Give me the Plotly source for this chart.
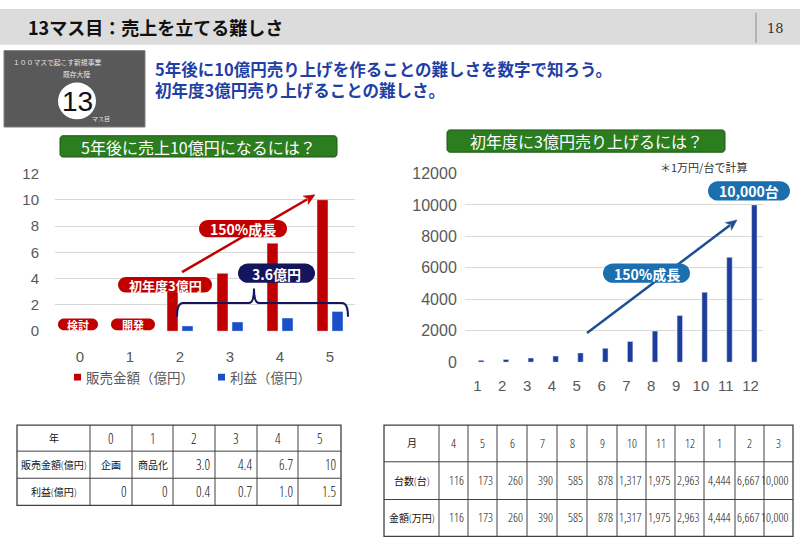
import math
import plotly.graph_objects as go

# ---------------- data ----------------
years = [0, 1, 2, 3, 4, 5]
sales = [0, 0, 3.0, 4.4, 6.7, 10]          # 販売金額（億円）
profit = [0, 0, 0.4, 0.7, 1.0, 1.5]        # 利益（億円）
sales_table = ["企画", "商品化", "3.0", "4.4", "6.7", "10"]
profit_table = ["0", "0", "0.4", "0.7", "1.0", "1.5"]

month_idx = [1, 2, 3, 4, 5, 6, 7, 8, 9, 10, 11, 12]
months = ["4", "5", "6", "7", "8", "9", "10", "11", "12", "1", "2", "3"]
units = [116, 173, 260, 390, 585, 878, 1317, 1975, 2963, 4444, 6667, 10000]   # 台数（台）
amounts = [116, 173, 260, 390, 585, 878, 1317, 1975, 2963, 4444, 6667, 10000] # 金額（万円）

W, H = 800, 554
JP = "Noto Sans CJK JP"
COND = "Open Sans Condensed Light, Noto Sans CJK JP"
RED = "#c00000"
BLUE_L = "#1a4fc8"
BLUE_R = "#1c3d9c"
NAVY = "#15155e"
PILLBLUE = "#1b6fae"
GREEN = "#2b7d1f"
GRAY = "#595959"


def px(x):
    return x / W


def py(y):
    return 1 - y / H


def P(x, y):
    return f"{px(x):.5f},{py(y):.5f}"


def rrect(x0, y0, x1, y1, r):
    k = 0.5523 * r
    return (f"M {P(x0 + r, y0)} L {P(x1 - r, y0)} "
            f"C {P(x1 - r + k, y0)} {P(x1, y0 + r - k)} {P(x1, y0 + r)} "
            f"L {P(x1, y1 - r)} "
            f"C {P(x1, y1 - r + k)} {P(x1 - r + k, y1)} {P(x1 - r, y1)} "
            f"L {P(x0 + r, y1)} "
            f"C {P(x0 + r - k, y1)} {P(x0, y1 - r + k)} {P(x0, y1 - r)} "
            f"L {P(x0, y0 + r)} "
            f"C {P(x0, y0 + r - k)} {P(x0 + r - k, y0)} {P(x0 + r, y0)} Z")


shapes = []
annotations = []


def add_rrect(x0, y0, x1, y1, r, fill, line=None, lw=0):
    shapes.append(dict(type="path", xref="paper", yref="paper", path=rrect(x0, y0, x1, y1, r),
                       fillcolor=fill, line=dict(color=line or fill, width=lw), layer="above"))


def add_text(x, y, text, size, color, bold=False, family=JP, xanchor="center"):
    annotations.append(dict(xref="paper", yref="paper", x=px(x), y=py(y), text=text, showarrow=False,
                            xanchor=xanchor, yanchor="middle", align="left" if xanchor == "left" else "center",
                            font=dict(family=family, size=size, color=color,
                                      weight="bold" if bold else "normal")))


def pill(x0, y0, x1, y1, fill, text, size):
    add_rrect(x0, y0, x1, y1, (y1 - y0) / 2, fill)
    add_text((x0 + x1) / 2, (y0 + y1) / 2 + 0.5, text, size, "white", bold=True)


def arrow(x0, y0, x1, y1, color, w=2.5, hl=11, hw=5):
    d = math.hypot(x1 - x0, y1 - y0)
    ux, uy = (x1 - x0) / d, (y1 - y0) / d
    bx, by = x1 - ux * hl, y1 - uy * hl
    shapes.append(dict(type="line", xref="paper", yref="paper", x0=px(x0), y0=py(y0),
                       x1=px(bx + ux * 2), y1=py(by + uy * 2), line=dict(color=color, width=w), layer="above"))
    nx, ny = -uy, ux
    shapes.append(dict(type="path", xref="paper", yref="paper",
                       path=f"M {P(x1, y1)} L {P(bx + nx * hw, by + ny * hw)} L {P(bx + ux * 3, by + uy * 3)} "
                            f"L {P(bx - nx * hw, by - ny * hw)} Z",
                       fillcolor=color, line=dict(color=color, width=0.5), layer="above"))


def is_num(s):
    return s.replace(",", "").replace(".", "").isdigit()


def draw_table(x_edges, y_edges, rows, size_txt, size_num, pad=3):
    shapes.append(dict(type="rect", xref="paper", yref="paper", x0=px(x_edges[0]), x1=px(x_edges[-1]),
                       y0=py(y_edges[-1]), y1=py(y_edges[0]), line=dict(color="#404040", width=1.3),
                       fillcolor="rgba(0,0,0,0)"))
    for xe in x_edges[1:-1]:
        shapes.append(dict(type="line", xref="paper", yref="paper", x0=px(xe), x1=px(xe),
                           y0=py(y_edges[-1]), y1=py(y_edges[0]), line=dict(color="#404040", width=1)))
    for ye in y_edges[1:-1]:
        shapes.append(dict(type="line", xref="paper", yref="paper", x0=px(x_edges[0]), x1=px(x_edges[-1]),
                           y0=py(ye), y1=py(ye), line=dict(color="#404040", width=1)))
    for r, row in enumerate(rows):
        yc = (y_edges[r] + y_edges[r + 1]) / 2
        for c, txt in enumerate(row):
            if r > 0 and c > 0 and is_num(txt):
                add_text(x_edges[c + 1] - pad, yc, txt, size_num, "#111111", family=COND, xanchor="right")
            else:
                add_text((x_edges[c] + x_edges[c + 1]) / 2, yc, txt,
                         size_num if is_num(txt) else size_txt, "#111111", family=COND)


# ---------------- header ----------------
shapes.append(dict(type="rect", xref="paper", yref="paper", x0=0, x1=1, y0=py(37), y1=1,
                   fillcolor="#dcdcdc", line=dict(width=0), layer="below"))
shapes.append(dict(type="line", xref="paper", yref="paper", x0=px(756), x1=px(756), y0=py(4), y1=py(35),
                   line=dict(color="#a6a6a6", width=1.5)))
add_text(26, 19, "13マス目：売上を立てる難しさ", 18, "#111111", bold=True, xanchor="left")
add_text(775, 20, "18", 13, "#333333", family="DejaVu Serif")

# logo box
shapes.append(dict(type="rect", xref="paper", yref="paper", x0=px(4), x1=px(145), y0=py(122), y1=py(43),
                   fillcolor="#595959", line=dict(color="#808080", width=1), layer="below"))
shapes.append(dict(type="circle", xref="paper", yref="paper", x0=px(58), x1=px(96), y0=py(114), y1=py(76),
                   fillcolor="white", line=dict(width=0), layer="above"))
add_text(57, 55, "１００マスで起こす新規事業", 6.8, "#e6e6e6")
add_text(76, 67, "既存大陸", 6.8, "#e6e6e6")
add_text(77, 96, "13", 28, "#111111", family="Liberation Sans")
add_text(101, 113, "マス目", 6, "#e6e6e6")

# blue heading (two lines in one text block)
add_text(153, 73, "5年後に10億円売り上げを作ることの難しさを数字で知ろう。<br>初年度3億円売り上げることの難しさ。",
         16.5, "#1f3fa6", bold=True, xanchor="left")

# green titles
add_rrect(60, 131, 337, 153, 3, GREEN, line="#1c5a12", lw=1)
add_text(198, 142.5, "5年後に売上10億円になるには？", 16, "white")
add_rrect(447, 125, 725, 148, 3, GREEN, line="#1c5a12", lw=1)
add_text(586, 136.5, "初年度に3億円売り上げるには？", 16, "white")
add_text(703, 163, "＊1万円/台で計算", 11, "#333333")

# left chart decorations
arrow(182, 272, 315, 192, RED, w=2.5)
pill(58, 320, 98, 332, RED, "検討", 11)
pill(111, 320, 155, 332, RED, "開発", 11)
pill(118, 277, 212, 293, RED, "初年度3億円", 13)
pill(199, 218, 287, 236, RED, "150%成長", 14)
shapes.append(dict(type="path", xref="paper", yref="paper", layer="above",
                   path=(f"M {P(177, 318)} Q {P(177, 304)} {P(183, 304)} L {P(249, 304)} "
                         f"Q {P(254, 304)} {P(254, 289)} Q {P(254, 304)} {P(259, 304)} "
                         f"L {P(342, 304)} Q {P(348, 304)} {P(348, 318)}"),
                   line=dict(color=NAVY, width=2)))
pill(238, 263, 315, 283, NAVY, "3.6億円", 14)

# right chart decorations
arrow(587, 335, 737, 218, "#1f4e96", w=2.5)
pill(603, 263, 690, 283, PILLBLUE, "150%成長", 14)
pill(708, 178, 790, 198, PILLBLUE, "10,000台", 14)

# legend (left chart)
legend_items = [("販売金額（億円）", RED, 74), ("利益（億円）", BLUE_L, 218)]
for name, col, lx in legend_items:
    shapes.append(dict(type="rect", xref="paper", yref="paper", x0=px(lx), x1=px(lx + 7),
                       y0=py(384), y1=py(377), fillcolor=col, line=dict(width=0)))
    add_text(lx + 10, 380.5, name, 13.5, GRAY, xanchor="left")

# tables
left_rows = [["年"] + [str(y) for y in years],
             ["販売金額(億円)"] + sales_table,
             ["利益(億円)"] + profit_table]
draw_table([17, 90, 132, 173, 215, 257, 298, 341], [430, 457, 485, 513], left_rows, 10, 14)

right_rows = [["月"] + months,
              ["台数(台)"] + [f"{u:,}" for u in units],
              ["金額(万円)"] + [f"{a:,}" for a in amounts]]
draw_table([384, 439, 468, 497, 527, 557, 587, 617, 646, 675, 704, 735, 764, 793],
           [430, 468, 507, 545], right_rows, 10, 12.5, pad=2)

# ---------------- figure ----------------
fig = go.Figure()
fig.add_trace(go.Bar(x=years, y=sales, name="販売金額（億円）", marker_color=RED,
                     width=0.22, offset=-0.26, xaxis="x", yaxis="y"))
fig.add_trace(go.Bar(x=years, y=profit, name="利益（億円）", marker_color=BLUE_L,
                     width=0.22, offset=0.04, xaxis="x", yaxis="y"))
fig.add_trace(go.Bar(x=month_idx, y=units, name="台数", marker_color=BLUE_R,
                     width=0.22, offset=0.04, xaxis="x2", yaxis="y2"))

tickfont = dict(family="Liberation Sans", size=15, color=GRAY)
fig.update_layout(
    width=W, height=H, margin=dict(l=0, r=0, t=0, b=0),
    paper_bgcolor="white", plot_bgcolor="white",
    barmode="overlay", showlegend=False,
    font=dict(family=JP),
    xaxis=dict(domain=[px(55), px(355)], range=[-0.5, 5.5], tickvals=years, showgrid=False,
               zeroline=False, showline=False, ticks="outside", ticklen=12, tickcolor="rgba(0,0,0,0)",
               tickfont=tickfont, fixedrange=True),
    yaxis=dict(domain=[py(333), py(170)], range=[0, 12], dtick=2, gridcolor="#d9d9d9", zeroline=False,
               showline=False, ticks="outside", ticklen=12, tickcolor="rgba(0,0,0,0)",
               tickfont=tickfont, fixedrange=True),
    xaxis2=dict(domain=[px(465), px(763)], range=[0.5, 12.5], tickvals=month_idx, showgrid=False,
                zeroline=False, showline=False, ticks="outside", ticklen=10, tickcolor="rgba(0,0,0,0)",
                tickfont=tickfont, anchor="y2", fixedrange=True),
    yaxis2=dict(domain=[py(365), py(170)], range=[0, 12000], dtick=2000, tickformat="d",
                gridcolor="#d9d9d9", zeroline=False, showline=False, ticks="outside", ticklen=4,
                tickcolor="rgba(0,0,0,0)",
                tickfont=dict(family="Liberation Sans", size=16, color=GRAY), anchor="x2", fixedrange=True),
    shapes=shapes,
    annotations=annotations,
)

fig.write_html("out.html")
